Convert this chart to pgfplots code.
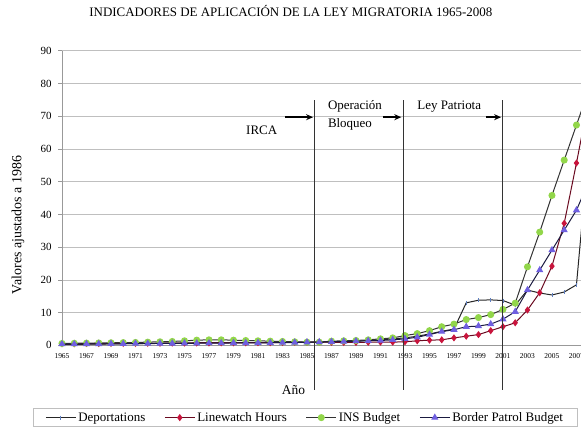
\documentclass[border=0pt]{standalone}
\usepackage{pgfplots}
\usepackage{pgfplotstable}
\pgfplotsset{compat=1.18}
\usepackage{fontspec}
\setmainfont{Liberation Serif}
\usetikzlibrary{arrows.meta}
\definecolor{insgreen}{HTML}{92D64A}
\definecolor{lwred}{HTML}{C8143C}
\definecolor{lwline}{HTML}{6A0A20}
\definecolor{bpblue}{HTML}{6F5FE0}
\definecolor{bpline}{HTML}{1A1A40}
\definecolor{depblue}{HTML}{5F7FC0}
\definecolor{gridgray}{HTML}{BFBFBF}

\pgfplotstableread{
year D L I B
1965 0.3 0.5 0.6 0.4
1966 0.3 0.5 0.65 0.4
1967 0.35 0.55 0.7 0.45
1968 0.4 0.55 0.75 0.45
1969 0.45 0.6 0.8 0.5
1970 0.5 0.6 0.85 0.5
1971 0.55 0.6 0.9 0.55
1972 0.6 0.65 1.0 0.55
1973 0.65 0.65 1.1 0.6
1974 0.7 0.7 1.2 0.6
1975 0.75 0.7 1.4 0.65
1976 0.8 0.75 1.6 0.65
1977 0.85 0.75 1.7 0.7
1978 0.85 0.8 1.7 0.7
1979 0.85 0.8 1.6 0.75
1980 0.8 0.8 1.5 0.75
1981 0.85 0.85 1.4 0.8
1982 0.9 0.85 1.3 0.8
1983 0.95 0.9 1.2 0.85
1984 1.0 0.95 1.1 0.9
1985 1.0 0.95 1.0 0.95
1986 1.0 1.0 1.0 1.0
1987 1.1 0.95 1.3 1.1
1988 1.2 0.9 1.4 1.2
1989 1.3 0.9 1.5 1.3
1990 1.5 0.95 1.7 1.4
1991 1.7 1.0 2.0 1.5
1992 2.0 1.0 2.3 1.7
1993 2.3 1.1 3.0 2.0
1994 2.8 1.4 3.6 2.5
1995 3.5 1.6 4.5 3.3
1996 4.3 1.7 5.7 4.2
1997 5.0 2.3 6.5 4.8
1998 13.0 2.8 7.9 5.7
1999 13.8 3.3 8.5 5.9
2000 13.9 4.5 9.4 6.5
2001 13.7 5.7 11.0 8.0
2002 12.3 6.9 12.9 10.3
2003 16.9 10.8 24.0 16.9
2004 16.0 16.1 34.6 23.0
2005 15.4 24.2 45.8 29.1
2006 16.3 37.3 56.6 35.2
2007 18.5 55.7 67.3 41.3
2008 60.0 75.0 78.0 50.0
}\datatable

\begin{document}
\begin{tikzpicture}
\useasboundingbox (-62bp,-86.6bp) rectangle (519bp,345.4bp);
\begin{axis}[
  scale only axis,
  width=519bp, height=294.7bp,
  xmin=1965, xmax=2007.37,
  ymin=0, ymax=90,
  clip mode=individual,
  axis x line*=bottom, axis y line*=left,
  axis line style={gridgray!80!black, line width=0.8bp},
  ytick={0,10,...,90},
  xtick={1965,1967,...,2007},
  x tick label style={/pgf/number format/1000 sep={}, font=\fontsize{7.5}{8}\selectfont, yshift=-1bp},
  y tick label style={font=\fontsize{11}{12}\selectfont, xshift=-3bp},
  /pgf/number format/assume math mode=true,
  ymajorgrids,
  grid style={gridgray, line width=0.8bp},
  tick align=outside,
  x tick style={draw=none},
  y tick style={gridgray!80!black, line width=0.8bp},
  major tick length=4bp,
  title={INDICADORES DE APLICACIÓN DE LA LEY MIGRATORIA 1965-2008},
  title style={at={(rel axis cs:0.441,1.1144)}, anchor=center, font=\fontsize{13}{14}\selectfont},
  ylabel={Valores ajustados a 1986},
  ylabel style={at={(rel axis cs:-0.0848,0.409)}, anchor=center, font=\fontsize{14}{15}\selectfont},
  xlabel={Año},
  xlabel style={at={(axis cs:1983.9,-13.6)}, anchor=center, font=\fontsize{13.5}{14}\selectfont},
  legend columns=4,
  legend style={at={(rel axis cs:-0.0559,-0.2124)}, anchor=north west,
    draw=gridgray, fill=white, line width=0.8bp,
    font=\fontsize{13}{14}\selectfont,
    inner xsep=12bp, inner ysep=2bp,
    /tikz/every even column/.append style={column sep=17bp}},
  legend image code/.code={
    \draw[mark repeat=2,mark phase=2,#1] plot coordinates {(0bp,0bp)(15bp,0bp)(30bp,0bp)};
  },
]
\addplot[black!85, line width=1bp, mark=|, mark size=2bp, mark options={depblue, line width=0.8bp}] table[x=year,y=D]{\datatable};
\addlegendentry{Deportations}
\addplot[lwline, line width=1bp, mark=diamond*, mark size=2.8bp, mark options={fill=lwred, draw=lwred}] table[x=year,y=L]{\datatable};
\addlegendentry{Linewatch Hours}
\addplot[black!80, line width=1bp, mark=*, mark size=3bp, mark options={fill=insgreen, draw=insgreen}] table[x=year,y=I]{\datatable};
\addlegendentry{INS Budget}
\addplot[bpline, line width=1bp, mark=triangle*, mark size=3.2bp, mark options={fill=bpblue, draw=bpblue}] table[x=year,y=B]{\datatable};
\addlegendentry{Border Patrol Budget}

% event markers
\draw[black!80, line width=1bp] (axis cs:1985.65,74.9) -- (axis cs:1985.65,-13.6);
\draw[black!80, line width=1bp] (axis cs:1992.84,74.9) -- (axis cs:1992.84,-13.6);
\draw[black!80, line width=1bp] (axis cs:2001.0,74.9) -- (axis cs:2001.0,-13.6);
\draw[-{Stealth[length=7bp,width=6bp]}, line width=1.5bp] (axis cs:1983.2,69.7) -- (axis cs:1985.5,69.7);
\draw[-{Stealth[length=7bp,width=6bp]}, line width=1.5bp] (axis cs:1991.2,69.7) -- (axis cs:1992.7,69.7);
\draw[-{Stealth[length=7bp,width=6bp]}, line width=1.5bp] (axis cs:1999.6,69.7) -- (axis cs:2000.85,69.7);
\node[font=\fontsize{13}{14}\selectfont] at (axis cs:1981.3,65.7) {IRCA};
\node[font=\fontsize{13}{14}\selectfont, anchor=west, inner sep=0pt] at (axis cs:1986.7,73.0) {Operación};
\node[font=\fontsize{13}{14}\selectfont, anchor=west, inner sep=0pt] at (axis cs:1986.7,67.4) {Bloqueo};
\node[font=\fontsize{13}{14}\selectfont, anchor=west, inner sep=0pt] at (axis cs:1994.0,72.8) {Ley Patriota};
\end{axis}
\end{tikzpicture}
\end{document}
